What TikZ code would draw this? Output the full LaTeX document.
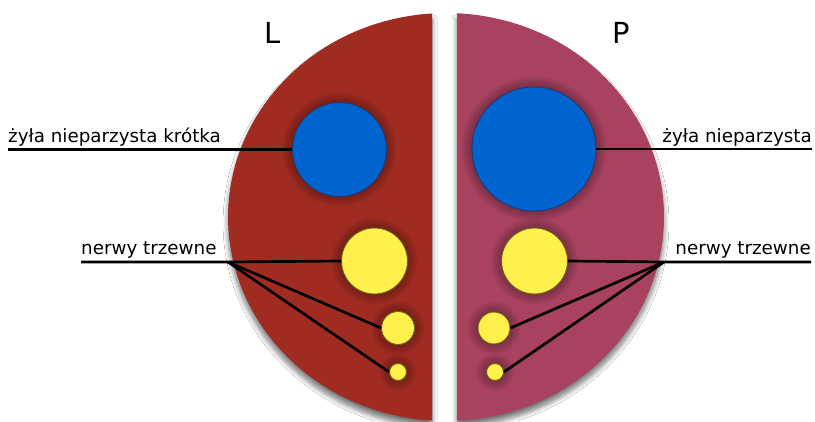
\documentclass[tikz,border=0pt]{standalone}
\usepackage{fontspec}
\setmainfont{DejaVu Sans}
\usetikzlibrary{shadows.blur,backgrounds}
\definecolor{leftred}{HTML}{A02C21}
\definecolor{rightrose}{HTML}{A8425F}
\definecolor{veinblue}{HTML}{0064D0}
\definecolor{veinborder}{HTML}{1B3A78}
\definecolor{nerveyellow}{HTML}{FFF04C}
\definecolor{nerveborder}{HTML}{6E6418}
\tikzset{
  half/.style={blur shadow={shadow blur radius=5pt, shadow xshift=0pt, shadow yshift=-6pt, shadow opacity=55, shadow blur steps=10}},
  vein/.style={circle, fill=veinblue, draw=veinborder, line width=0.9pt, inner sep=0pt, minimum size=#1},
  nerve/.style={circle, fill=nerveyellow, draw=nerveborder, line width=0.9pt, inner sep=0pt, minimum size=#1},
  lbl/.style={inner sep=0pt, font=\fontsize{18.3}{22}\selectfont},
  side/.style={inner sep=0pt, font=\fontsize{29}{34}\selectfont},
  wire/.style={black, line width=2.7pt},
  ring/.style={black, opacity=0.05}
}
\begin{document}
\begin{tikzpicture}[x=1pt,y=1pt]
\useasboundingbox (0,0) rectangle (815,421);
\begin{scope}[on background layer]
  \fill[white] (0,0) rectangle (815,421);
  % left half
  \fill[leftred, half] (432,407.6) -- (432,0.4)
    arc[start angle=266.3, end angle=93.7, x radius=218pt, y radius=204pt] -- cycle;
  % right half
  \fill[rightrose, half] (457,0.26) -- (457,407.74)
    arc[start angle=87.1, end angle=-87.1, x radius=218pt, y radius=204pt] -- cycle;
\end{scope}

% vessels and nerves
\node[vein=94pt]  (lv)  at (339.5,271.5) {};
\node[nerve=66pt] (ly1) at (374.5,160) {};
\node[nerve=33pt] (ly2) at (398,93) {};
\node[nerve=17pt] (ly3) at (398,49) {};
\node[vein=124pt] (rv)  at (534,272) {};
\node[nerve=66pt] (ry1) at (534.5,160) {};
\node[nerve=32pt] (ry2) at (494,93) {};
\node[nerve=17pt] (ry3) at (495,49) {};

\begin{scope}[on background layer]
  \foreach \n/\r in {lv/47, ly1/33, ly2/16.5, ly3/8.5, rv/62, ry1/33, ry2/16, ry3/8.5}{
    \foreach \k in {2,4,6,8,10}{
      \fill[ring] (\n) circle[radius=\r pt+\k pt];
    }
  }
\end{scope}

% side letters
\node[side, anchor=base] (L) at (272.5,377) {L};
\node[side, anchor=base] (P) at (621.5,377) {P};

% labels
\node[lbl, anchor=base west] (lvl) at (8,278) {żyła nieparzysta krótka};
\node[lbl, anchor=base west] (lnl) at (81,166) {nerwy trzewne};
\node[lbl, anchor=base east] (rvl) at (812,278) {żyła nieparzysta};
\node[lbl, anchor=base east] (rnl) at (811,166) {nerwy trzewne};

\coordinate (jl) at (228,159);
\coordinate (jr) at (664,159);

% connectors
\draw[wire] (lv.west) -- (lv.west -| lvl.west);
\draw[wire] (rv.east) -- (rv.east -| rvl.east);
\draw[wire] (lnl.west |- jl) -- (jl) -- (ly1.west);
\draw[wire] (jl) -- (ly2.west);
\draw[wire] (jl) -- (ly3.west);
\draw[wire] (rnl.east |- jr) -- (jr) -- (ry1.east);
\draw[wire] (jr) -- (ry2.east);
\draw[wire] (jr) -- (ry3.east);
\end{tikzpicture}
\end{document}
